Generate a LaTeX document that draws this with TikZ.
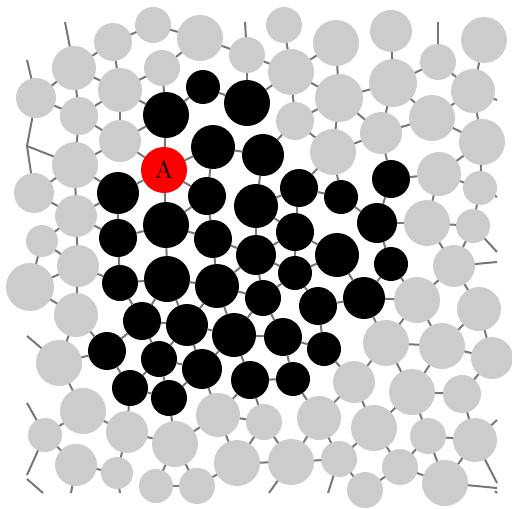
\documentclass[tikz,border=0pt]{standalone}
\usetikzlibrary{positioning}
\definecolor{grGray}{HTML}{CCCCCC}
\definecolor{grBond}{HTML}{777777}
\definecolor{grRed}{HTML}{FF0000}
\tikzset{
  grain/.style={circle, inner sep=0pt, outer sep=0pt, minimum size=#1pt},
  loose/.style={grain=#1, fill=grGray},
  jam/.style={grain=#1, fill=black},
  tracer/.style={grain=#1, fill=grRed,
    label={[font=\fontsize{12.5}{14}\selectfont, inner sep=0pt]center:A}},
  bond/.style={draw=grBond, line width=1pt}
}
\begin{document}
\begin{tikzpicture}[x=0.5pt, y=-0.5pt]
  \useasboundingbox (0,0) rectangle (512,508);
  \foreach \x/\y/\r/\k [count=\i] in {
    153/25/18/loose, 113/42/19/loose, 200/38/23/loose, 247/55/18/loose, 284/25/18/loose,
    336/43/23/loose, 391/31/21/loose, 484/40/23/loose, 438/62/18/loose, 74/68/22/loose,
    162/68/18/loose, 291/72/23/loose, 393/83/24/loose, 473/91/22/loose, 36/98/20/loose,
    120/90/22/loose, 79/116/19/loose, 339/98/24/loose, 295/121/19/loose, 432/118/23/loose,
    381/133/21/loose, 482/142/23/loose, 120/141/21/loose, 333/152/23/loose, 75/165/23/loose,
    34/193/20/loose, 439/174/22/loose, 480/188/17/loose, 76/216/21/loose, 42/241/16/loose,
    427/223/23/loose, 473/226/17/loose, 78/266/21/loose, 30/287/24/loose, 454/266/21/loose,
    76/315/22/loose, 417/300/23/loose, 479/309/22/loose, 59/363/23/loose, 386/343/23/loose,
    442/346/23/loose, 492/358/21/loose, 354/382/21/loose, 412/392/23/loose, 462/394/19/loose,
    83/411/23/loose, 218/415/22/loose, 264/422/18/loose, 319/418/22/loose, 45/435/17/loose,
    127/432/21/loose, 175/444/23/loose, 374/428/23/loose, 428/436/18/loose, 475/440/22/loose,
    76/465/21/loose, 117/473/16/loose, 156/486/17/loose, 197/486/18/loose, 237/463/23/loose,
    291/462/23/loose, 339/459/18/loose, 365/490/18/loose, 400/467/18/loose, 445/483/23/loose,
    203/87/17/jam, 166/115/23/jam, 247/103/23/jam, 213/147/22/jam, 263/155/21/jam,
    118/193/21/jam, 207/196/19/jam, 256/206/22/jam, 299/188/19/jam, 341/197/17/jam,
    391/179/19/jam, 166/225/23/jam, 118/238/19/jam, 213/239/19/jam, 256/255/20/jam,
    295/232/19/jam, 337/255/22/jam, 377/223/20/jam, 391/264/17/jam, 120/283/18/jam,
    167/279/23/jam, 217/286/22/jam, 295/273/17/jam, 263/298/18/jam, 318/306/19/jam,
    364/298/21/jam, 142/321/19/jam, 187/325/21/jam, 234/335/22/jam, 283/337/19/jam,
    324/349/17/jam, 107/351/19/jam, 159/359/18/jam, 202/369/20/jam, 250/380/19/jam,
    293/379/17/jam, 130/388/18/jam, 169/398/18/jam,
    164/170/23/tracer}{
    \node[\k=\r] (p\i) at (\x,\y) {};
    \expandafter\xdef\csname grx\i\endcsname{\x}
    \expandafter\xdef\csname gry\i\endcsname{\y}
    \expandafter\xdef\csname grr\i\endcsname{\r}
    \xdef\grN{\i}
  }
  \foreach \i in {1,...,\grN}{
    \foreach \j in {1,...,\grN}{
      \ifnum\j>\i\relax
        \pgfmathsetmacro\grDx{\csname grx\i\endcsname-\csname grx\j\endcsname}
        \pgfmathsetmacro\grDy{\csname gry\i\endcsname-\csname gry\j\endcsname}
        \pgfmathsetmacro\grFar{max(abs(\grDx),abs(\grDy))}
        \ifdim\grFar pt<70pt
          \pgfmathsetmacro\grTest{\csname grr\i\endcsname+\csname grr\j\endcsname-0.82*veclen(\grDx,\grDy)}
          \ifdim\grTest pt>0pt
            \draw[bond] (p\i) -- (p\j);
          \fi
        \fi
      \fi
    }
  }
  \coordinate (e1) at (65,22);
  \coordinate (e2) at (27,60);
  \coordinate (e3) at (245,22);
  \coordinate (e4) at (438,22);
  \coordinate (e5) at (497,100);
  \coordinate (e6) at (497,197);
  \coordinate (e7) at (497,252);
  \coordinate (e8) at (497,262);
  \coordinate (e9) at (27,336);
  \coordinate (e10) at (27,403);
  \coordinate (e11) at (27,475);
  \coordinate (e12) at (71,493);
  \coordinate (e13) at (120,493);
  \coordinate (e14) at (269,493);
  \coordinate (e15) at (328,493);
  \coordinate (e16) at (497,420);
  \coordinate (e17) at (497,483);
  \coordinate (e18) at (497,488);
  \coordinate (j) at (27,146);
  \coordinate (f1) at (27,479);
  \coordinate (f2) at (43,493);
  \coordinate (f3) at (495,491);
  \coordinate (f4) at (497,493);
  \draw[bond] (p10) -- (e1);
  \draw[bond] (p15) -- (e2);
  \draw[bond] (p4) -- (e3);
  \draw[bond] (p9) -- (e4);
  \draw[bond] (p14) -- (e5);
  \draw[bond] (p28) -- (e6);
  \draw[bond] (p32) -- (e7);
  \draw[bond] (p35) -- (e8);
  \draw[bond] (p39) -- (e9);
  \draw[bond] (p50) -- (e10);
  \draw[bond] (p50) -- (e11);
  \draw[bond] (p56) -- (e12);
  \draw[bond] (p57) -- (e13);
  \draw[bond] (p61) -- (e14);
  \draw[bond] (p62) -- (e15);
  \draw[bond] (p55) -- (e16);
  \draw[bond] (p55) -- (e17);
  \draw[bond] (p65) -- (e18);
  \draw[bond] (p15) -- (j) -- (p26);
  \draw[bond] (j) -- (p25);
  \draw[bond] (f1) -- (f2);
  \draw[bond] (f3) -- (f4);
\end{tikzpicture}
\end{document}
